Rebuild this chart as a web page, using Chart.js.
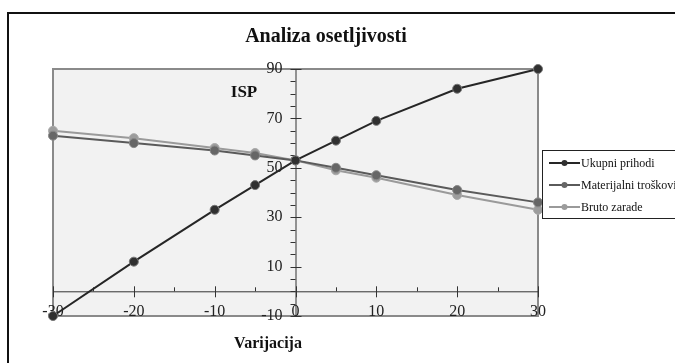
<!DOCTYPE html>
<html>
<head>
<meta charset="utf-8">
<script src="https://cdn.jsdelivr.net/npm/chart.js@4"></script>
<style>
  html, body { margin: 0; padding: 0; background: #fff; }
  #wrap { width: 675px; height: 363px; }
</style>
</head>
<body>
<div id="wrap"><canvas id="myChart" width="675" height="363"></canvas></div>
<script>
// Data
const variations = [-30, -20, -10, -5, 0, 5, 10, 20, 30];
const ukupniPrihodi = [-10, 12, 33, 43, 53, 61, 69, 82, 90];
const materijalniTroskovi = [63, 60, 57, 55, 53, 50, 47, 41, 36];
const brutoZarade = [65, 62, 58, 56, 53, 49, 46, 39, 33];
const seriesNames = ["Ukupni prihodi", "Materijalni troškovi", "Bruto zarade"];

// tick labels
const xTicks = [-30, -20, -10, 0, 10, 20, 30];
const yTicks = [-10, 10, 30, 50, 70, 90];

const serif = "'Liberation Serif', 'DejaVu Serif', serif";

function toPoints(values) {
  return variations.map((v, i) => ({ x: v, y: values[i] }));
}

// axes, frame, titles and legend drawn by hand
const excelLook = {
  id: "excelLook",
  beforeDraw(chart) {
    const { ctx, chartArea: a } = chart;
    ctx.save();
    ctx.fillStyle = "#fff";
    ctx.fillRect(0, 0, chart.width, chart.height);
    // outer frame
    ctx.strokeStyle = "#111";
    ctx.lineWidth = 2;
    ctx.strokeRect(8, 13, chart.width + 20, chart.height + 20);
    // plot background
    ctx.fillStyle = "#f2f2f2";
    ctx.fillRect(a.left, a.top, a.right - a.left, a.bottom - a.top);
    ctx.restore();
  },
  beforeDatasetsDraw(chart) {
    const { ctx, chartArea: a } = chart;
    const xs = chart.scales.x, ys = chart.scales.y;
    const x0 = xs.getPixelForValue(0);
    const y0 = ys.getPixelForValue(0);
    ctx.save();
    // plot border
    ctx.strokeStyle = "#8a8a8a";
    ctx.lineWidth = 2;
    ctx.strokeRect(a.left, a.top, a.right - a.left, a.bottom - a.top);

    ctx.strokeStyle = "#333";
    ctx.lineWidth = 1;
    ctx.beginPath();
    // x axis at y = 0
    ctx.moveTo(a.left, y0 + 0.5);
    ctx.lineTo(a.right, y0 + 0.5);
    // y axis at x = 0
    ctx.moveTo(x0 + 0.5, a.top);
    ctx.lineTo(x0 + 0.5, a.bottom);
    // x ticks (major every 10, minor every 5)
    for (let v = xs.min; v <= xs.max; v += 5) {
      const px = Math.round(xs.getPixelForValue(v)) + 0.5;
      if (v % 10 === 0) {
        ctx.moveTo(px, y0 - 5);
        ctx.lineTo(px, y0 + 6);
      } else {
        ctx.moveTo(px, y0 - 4);
        ctx.lineTo(px, y0);
      }
    }
    // y ticks (major on labels, minor every 5)
    for (let v = ys.min; v <= ys.max; v += 5) {
      const py = Math.round(ys.getPixelForValue(v)) + 0.5;
      if (yTicks.includes(v)) {
        ctx.moveTo(x0 - 5, py);
        ctx.lineTo(x0 + 6, py);
      } else {
        ctx.moveTo(x0 - 5, py);
        ctx.lineTo(x0, py);
      }
    }
    ctx.stroke();

    // tick labels
    ctx.fillStyle = "#222";
    ctx.font = "16px " + serif;
    ctx.textBaseline = "middle";
    ctx.textAlign = "right";
    yTicks.forEach(v => ctx.fillText(String(v), x0 - 13, ys.getPixelForValue(v)));
    ctx.textAlign = "center";
    xTicks.forEach(v => ctx.fillText(String(v), xs.getPixelForValue(v), a.bottom - 4));
    ctx.restore();
  },
  afterDraw(chart) {
    const { ctx } = chart;
    ctx.save();
    ctx.fillStyle = "#111";
    ctx.textBaseline = "middle";
    ctx.textAlign = "center";
    ctx.font = "bold 20px " + serif;
    ctx.fillText("Analiza osetljivosti", 326, 37);
    ctx.font = "bold 17px " + serif;
    ctx.fillText("ISP", 244, 93);
    ctx.font = "bold 16px " + serif;
    ctx.fillText("Varijacija", 268, 344);

    // legend box
    ctx.fillStyle = "#fff";
    ctx.fillRect(542, 150, 140, 68);
    ctx.strokeStyle = "#222";
    ctx.lineWidth = 1;
    ctx.strokeRect(542.5, 150.5, 140, 68);
    ctx.font = "12px " + serif;
    ctx.textAlign = "left";
    chart.data.datasets.forEach((ds, i) => {
      const y = 163 + i * 22;
      ctx.strokeStyle = ds.borderColor;
      ctx.lineWidth = 2;
      ctx.beginPath();
      ctx.moveTo(549, y);
      ctx.lineTo(580, y);
      ctx.stroke();
      ctx.fillStyle = ds.pointBackgroundColor;
      ctx.beginPath();
      ctx.arc(564.5, y, 3, 0, Math.PI * 2);
      ctx.fill();
      ctx.fillStyle = "#111";
      ctx.fillText(ds.label, 581, y + 1);
    });
    ctx.restore();
  }
};

const ctx = document.getElementById("myChart").getContext("2d");

const myChart = new Chart(ctx, {
  type: "line",
  data: {
    datasets: [
      {
        label: seriesNames[0],
        data: toPoints(ukupniPrihodi),
        borderColor: "#262626",
        pointBackgroundColor: "#303030",
        pointBorderColor: "#777",
        borderWidth: 2,
        pointRadius: 4.5,
        pointBorderWidth: 1,
        clip: false
      },
      {
        label: seriesNames[1],
        data: toPoints(materijalniTroskovi),
        borderColor: "#5a5a5a",
        pointBackgroundColor: "#666",
        pointBorderColor: "#888",
        borderWidth: 2,
        pointRadius: 4.5,
        pointBorderWidth: 1,
        clip: false
      },
      {
        label: seriesNames[2],
        data: toPoints(brutoZarade),
        borderColor: "#9a9a9a",
        pointBackgroundColor: "#9c9c9c",
        pointBorderColor: "#aaa",
        borderWidth: 2,
        pointRadius: 4.5,
        pointBorderWidth: 1,
        clip: false
      }
    ]
  },
  options: {
    responsive: false,
    animation: false,
    layout: {
      padding: { left: 53, top: 69, right: 137, bottom: 47 }
    },
    scales: {
      x: { type: "linear", min: -30, max: 30, display: false },
      y: { type: "linear", min: -10, max: 90, display: false }
    },
    plugins: {
      legend: { display: false },
      title: { display: false },
      tooltip: { enabled: false }
    }
  },
  plugins: [excelLook]
});
</script>
</body>
</html>
